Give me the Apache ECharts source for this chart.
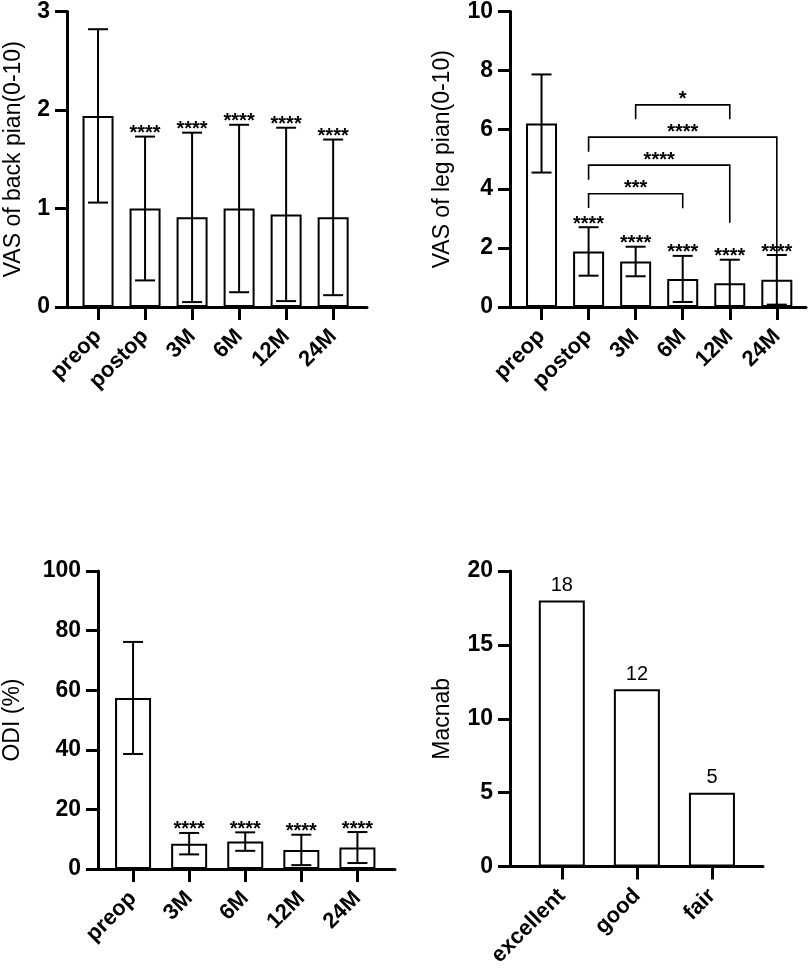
<!DOCTYPE html>
<html>
<head>
<meta charset="utf-8">
<script src="https://cdn.jsdelivr.net/npm/echarts@6.0.0/dist/echarts.min.js"></script>
<style>
html,body{margin:0;padding:0;background:#fff}
#main{width:810px;height:969px}
</style>
</head>
<body>
<div id="main"></div>
<script>
// VAS back pain (top left)
var backCats = ['preop', 'postop', '3M', '6M', '12M', '24M'];
var backMean = [1.94, 1.00, 0.91, 1.00, 0.94, 0.91];
var backSd = [0.88, 0.73, 0.86, 0.85, 0.88, 0.79];
var backStars = ['', '****', '****', '****', '****', '****'];
var backTicks = [0, 1, 2, 3];

// VAS leg pain (top right)
var legCats = ['preop', 'postop', '3M', '6M', '12M', '24M'];
var legMean = [6.21, 1.88, 1.54, 0.95, 0.80, 0.92];
var legSd = [1.66, 0.82, 0.50, 0.78, 0.80, 0.84];
var legStars = ['', '****', '****', '****', '****', '****'];
var legTicks = [0, 2, 4, 6, 8, 10];
// comparison brackets between groups
var legBrFrom = [2, 1, 1, 1];
var legBrTo = [4, 5, 4, 3];
var legBrLevel = [6.84, 5.75, 4.80, 3.83];
var legBrLeftEnd = [6.35, 5.25, 4.31, 3.35];
var legBrRightEnd = [6.35, 1.80, 2.85, 3.34];
var legBrText = ['*', '****', '****', '***'];

// ODI (bottom left)
var odiCats = ['preop', '3M', '6M', '12M', '24M'];
var odiMean = [57.4, 8.5, 9.2, 6.4, 7.2];
var odiSd = [18.8, 3.6, 3.1, 5.1, 5.2];
var odiStars = ['', '****', '****', '****', '****'];
var odiTicks = [0, 20, 40, 60, 80, 100];

// Macnab (bottom right)
var macCats = ['excellent', 'good', 'fair'];
var macCount = [18, 12, 5];
var macTicks = [0, 5, 10, 15, 20];

var FONT = '"Liberation Sans", Arial, sans-serif';
var myChart = echarts.init(document.getElementById('main'));

function idx(cats) { return cats.map(function (c, i) { return i; }); }

function xAxisCfg(gi, cats, min, max) {
  return {
    type: 'value', gridIndex: gi, min: min, max: max,
    axisLine: { show: true, onZero: false, lineStyle: { color: '#000', width: 3 } },
    axisTick: { show: true, customValues: idx(cats), length: 13, lineStyle: { color: '#000', width: 3 } },
    axisLabel: {
      customValues: idx(cats),
      formatter: function (v) { return cats[Math.round(v)]; },
      rotate: 45, margin: 26, fontSize: 22, fontWeight: 'bold', color: '#000', fontFamily: FONT
    },
    splitLine: { show: false }
  };
}

function yAxisCfg(gi, ticks, name, gap) {
  return {
    type: 'value', gridIndex: gi,
    min: ticks[0], max: ticks[ticks.length - 1], interval: ticks[1] - ticks[0],
    name: name, nameLocation: 'middle', nameGap: gap,
    nameTextStyle: { fontSize: 23, color: '#000', fontFamily: FONT },
    axisLine: { show: true, onZero: false, lineStyle: { color: '#000', width: 3 } },
    axisTick: { show: true, length: 12, lineStyle: { color: '#000', width: 3 } },
    axisLabel: { fontSize: 23, fontWeight: 'bold', color: '#000', margin: 17, fontFamily: FONT },
    splitLine: { show: false }
  };
}

function barSeries(gi, vals, w) {
  return {
    type: 'bar', xAxisIndex: gi, yAxisIndex: gi, barWidth: w, z: 2,
    data: vals.map(function (v, i) { return [i, v]; }),
    itemStyle: { color: '#fff', borderColor: '#000', borderWidth: 2 },
    emphasis: { disabled: true }
  };
}

// mean +/- SD whiskers, with the significance stars on top
function errSeries(gi, mean, sd, stars) {
  return {
    type: 'custom', xAxisIndex: gi, yAxisIndex: gi, z: 5,
    data: mean.map(function (m, i) { return [i, m - sd[i], m + sd[i]]; }),
    renderItem: function (params, api) {
      var x = api.value(0);
      var lo = api.coord([x, api.value(1)]);
      var hi = api.coord([x, api.value(2)]);
      var hw = 10;
      var st = { stroke: '#000', lineWidth: 2 };
      var kids = [
        { type: 'line', shape: { x1: lo[0], y1: lo[1], x2: hi[0], y2: hi[1] }, style: st },
        { type: 'line', shape: { x1: lo[0] - hw, y1: lo[1], x2: lo[0] + hw, y2: lo[1] }, style: st },
        { type: 'line', shape: { x1: hi[0] - hw, y1: hi[1], x2: hi[0] + hw, y2: hi[1] }, style: st }
      ];
      var s = stars[params.dataIndex];
      if (s) {
        kids.push({
          type: 'text', x: hi[0], y: hi[1] - 3,
          style: { text: s, fill: '#000', font: 'bold 20px ' + FONT, align: 'center', verticalAlign: 'middle' }
        });
      }
      return { type: 'group', children: kids };
    }
  };
}

var bracketSeries = {
  type: 'custom', xAxisIndex: 1, yAxisIndex: 1, z: 6,
  data: legBrFrom.map(function (f, i) {
    return [f, legBrTo[i], legBrLevel[i], legBrLeftEnd[i], legBrRightEnd[i]];
  }),
  renderItem: function (params, api) {
    var a = api.value(0), b = api.value(1), lv = api.value(2);
    var p1 = api.coord([a, api.value(3)]);
    var p2 = api.coord([a, lv]);
    var p3 = api.coord([b, lv]);
    var p4 = api.coord([b, api.value(4)]);
    return {
      type: 'group',
      children: [
        { type: 'polyline', shape: { points: [p1, p2, p3, p4] }, style: { stroke: '#000', lineWidth: 1.6, fill: null } },
        {
          type: 'text', x: (p2[0] + p3[0]) / 2, y: p2[1] - 5,
          style: { text: legBrText[params.dataIndex], fill: '#000', font: 'bold 20px ' + FONT, align: 'center', verticalAlign: 'middle' }
        }
      ]
    };
  }
};

var option = {
  backgroundColor: '#fff',
  animation: false,
  textStyle: { fontFamily: FONT },
  grid: [
    { left: 67, top: 9, width: 300, height: 298 },
    { left: 510, top: 8, width: 296, height: 299 },
    { left: 98, top: 571, width: 297, height: 298 },
    { left: 510, top: 571, width: 253, height: 298 }
  ],
  xAxis: [
    xAxisCfg(0, backCats, -0.66, 5.72),
    xAxisCfg(1, legCats, -0.67, 5.62),
    xAxisCfg(2, odiCats, -0.625, 4.67),
    xAxisCfg(3, macCats, -0.69, 2.68)
  ],
  yAxis: [
    yAxisCfg(0, backTicks, 'VAS of back pian(0-10)', 42),
    yAxisCfg(1, legTicks, 'VAS of leg pian(0-10)', 56),
    yAxisCfg(2, odiTicks, 'ODI (%)', 74),
    yAxisCfg(3, macTicks, 'Macnab', 56)
  ],
  series: [
    barSeries(0, backMean, 31),
    errSeries(0, backMean, backSd, backStars),
    barSeries(1, legMean, 31),
    errSeries(1, legMean, legSd, legStars),
    bracketSeries,
    barSeries(2, odiMean, 36),
    errSeries(2, odiMean, odiSd, odiStars),
    {
      type: 'bar', xAxisIndex: 3, yAxisIndex: 3, barWidth: 46, z: 2,
      data: macCount.map(function (v, i) { return [i, v]; }),
      itemStyle: { color: '#fff', borderColor: '#000', borderWidth: 2 },
      label: { show: true, position: 'top', distance: 5, fontSize: 20, color: '#000', fontFamily: FONT },
      emphasis: { disabled: true }
    }
  ]
};

myChart.setOption(option);
</script>
</body>
</html>
